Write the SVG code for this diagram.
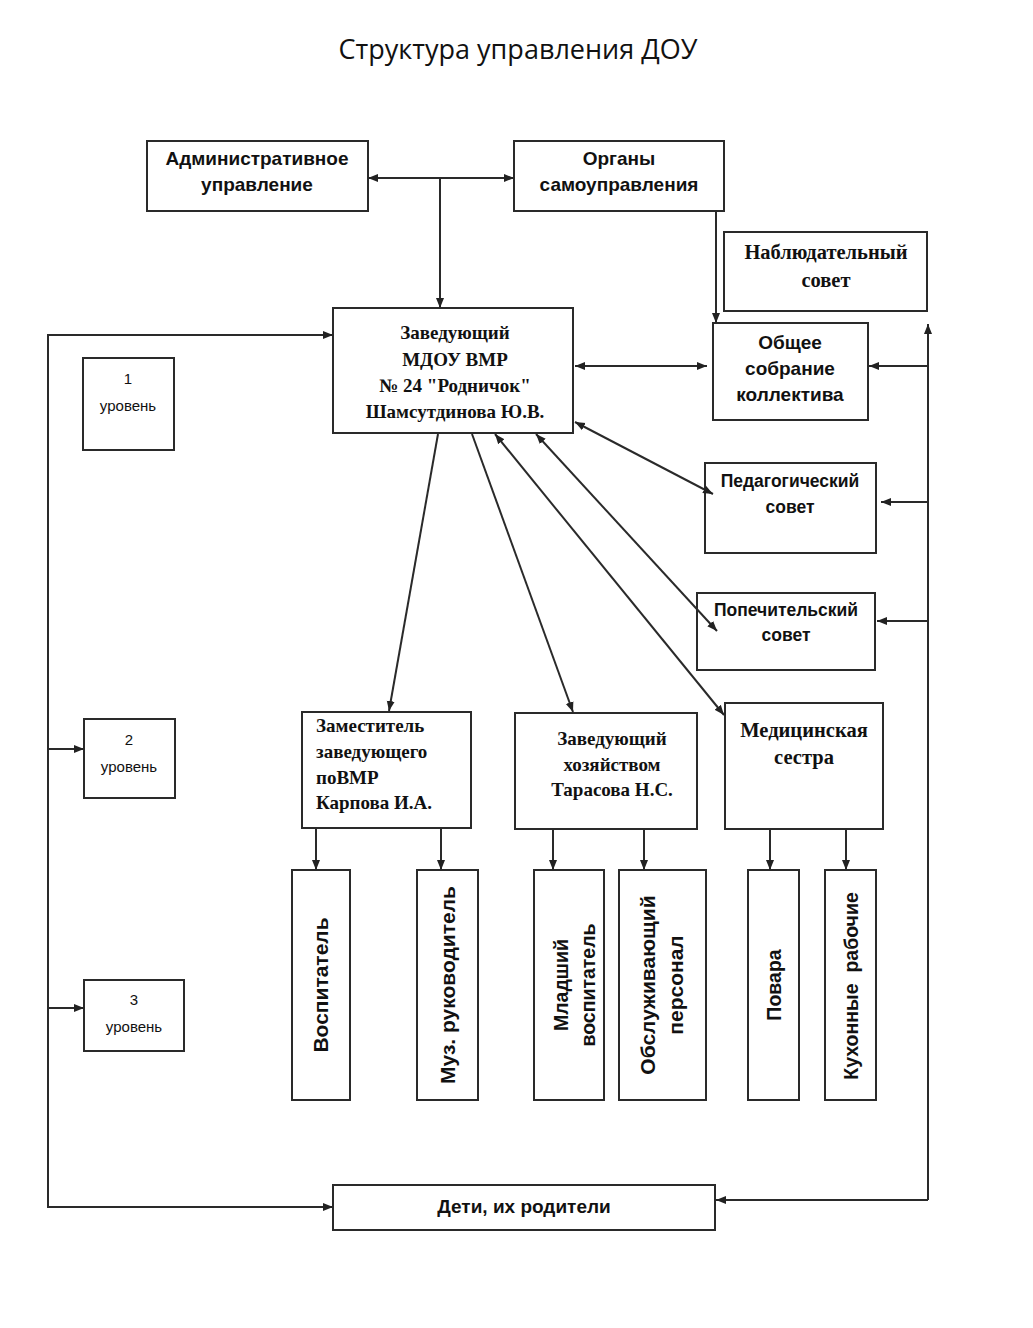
<svg xmlns="http://www.w3.org/2000/svg" width="1033" height="1328" viewBox="0 0 1033 1328">
<style>
.box{fill:#fff;stroke:#2a2a2a;stroke-width:2}
.ln{fill:none;stroke:#2a2a2a;stroke-width:2}
.s{font-family:"Liberation Sans",Arial,sans-serif;font-weight:bold;font-size:19px;fill:#111;text-anchor:middle}
.s2{font-size:17.5px}
.r{font-family:"Liberation Serif","Times New Roman",serif;font-weight:bold;font-size:19px;fill:#111;text-anchor:middle}
.r2{font-size:20.5px}
.sm{font-family:"Liberation Sans",Arial,sans-serif;font-size:15px;fill:#111;text-anchor:middle}
.v{font-family:"Liberation Sans",Arial,sans-serif;font-weight:bold;font-size:21px;fill:#111;text-anchor:middle}
.v2{font-size:19.5px}
.t{font-family:"Open Sans","Liberation Sans",sans-serif;font-size:27px;fill:#111;text-anchor:middle}
</style>
<defs>
<marker id="ah" viewBox="0 0 10 10" refX="10" refY="5" markerWidth="10" markerHeight="10" markerUnits="userSpaceOnUse" orient="auto-start-reverse"><path d="M0,1 L10,5 L0,9 z" fill="#222"/></marker>
</defs>
<rect width="1033" height="1328" fill="#fff"/>
<text class="t" x="518" y="59">Структура управления ДОУ</text>

<g id="admin"><rect class="box" x="147" y="141" width="221" height="70"/>
<text class="s" x="257" y="165">Административное</text><text class="s" x="257" y="191">управление</text></g>
<g id="organy"><rect class="box" x="514" y="141" width="210" height="70"/>
<text class="s" x="619" y="165">Органы</text><text class="s" x="619" y="191">самоуправления</text></g>
<g id="nabl"><rect class="box" x="724" y="232" width="203" height="79"/>
<text class="r r2" x="826" y="259">Наблюдательный</text><text class="r r2" x="826" y="287">совет</text></g>
<g id="head"><rect class="box" x="333" y="308" width="240" height="125"/>
<text class="r" x="455" y="339">Заведующий</text>
<text class="r" x="455" y="366">МДОУ ВМР</text>
<text class="r" x="455" y="392">№ 24 "Родничок"</text>
<text class="r" x="455" y="418">Шамсутдинова Ю.В.</text></g>
<g id="obshee"><rect class="box" x="713" y="323" width="155" height="97"/>
<text class="s" x="790" y="349">Общее</text><text class="s" x="790" y="375">собрание</text><text class="s" x="790" y="401">коллектива</text></g>
<g id="level1"><rect class="box" x="83" y="358" width="91" height="92"/>
<text class="sm" x="128" y="384">1</text><text class="sm" x="128" y="411">уровень</text></g>
<g id="ped"><rect class="box" x="705" y="463" width="171" height="90"/>
<text class="s s2" x="790" y="487">Педагогический</text><text class="s s2" x="790" y="513">совет</text></g>
<g id="popech"><rect class="box" x="697" y="593" width="178" height="77"/>
<text class="s s2" x="786" y="616">Попечительский</text><text class="s s2" x="786" y="641">совет</text></g>
<g id="level2"><rect class="box" x="84" y="719" width="91" height="79"/>
<text class="sm" x="129" y="745">2</text><text class="sm" x="129" y="772">уровень</text></g>
<g id="zam"><rect class="box" x="302" y="712" width="169" height="116"/>
<g class="r" style="text-anchor:start"><text x="316" y="732">Заместитель</text><text x="316" y="758">заведующего</text><text x="316" y="784">поВМР</text><text x="316" y="809">Карпова И.А.</text></g></g>
<g id="zavhoz"><rect class="box" x="515" y="713" width="182" height="116"/>
<text class="r" x="612" y="745">Заведующий</text><text class="r" x="612" y="771">хозяйством</text><text class="r" x="612" y="796">Тарасова Н.С.</text></g>
<g id="medsestra"><rect class="box" x="725" y="703" width="158" height="126"/>
<text class="r r2" x="804" y="737">Медицинская</text><text class="r r2" x="804" y="764">сестра</text></g>
<g id="level3"><rect class="box" x="84" y="980" width="100" height="71"/>
<text class="sm" x="134" y="1005">3</text><text class="sm" x="134" y="1032">уровень</text></g>

<g id="vosp"><rect class="box" x="292" y="870" width="58" height="230"/>
<text class="v" transform="translate(328,985) rotate(-90)">Воспитатель</text></g>
<g id="muz"><rect class="box" x="417" y="870" width="61" height="230"/>
<text class="v" transform="translate(455,985) rotate(-90)">Муз. руководитель</text></g>
<g id="mlad"><rect class="box" x="534" y="870" width="70" height="230"/>
<text class="v v2" transform="translate(568,985) rotate(-90)">Младший</text>
<text class="v v2" transform="translate(595,985) rotate(-90)">воспитатель</text></g>
<g id="obsl"><rect class="box" x="619" y="870" width="87" height="230"/>
<text class="v" transform="translate(655,985) rotate(-90)">Обслуживающий</text>
<text class="v" transform="translate(683,985) rotate(-90)">персонал</text></g>
<g id="povara"><rect class="box" x="748" y="870" width="51" height="230"/>
<text class="v v2" transform="translate(781,985) rotate(-90)">Повара</text></g>
<g id="kuhon"><rect class="box" x="825" y="870" width="51" height="230"/>
<text class="v v2" transform="translate(858,986) rotate(-90)" xml:space="preserve">Кухонные  рабочие</text></g>

<g id="deti"><rect class="box" x="333" y="1185" width="382" height="45"/>
<text class="s" x="524" y="1213">Дети, их родители</text></g>

<g id="connectors">
<line class="ln" x1="368" y1="178" x2="514" y2="178" marker-start="url(#ah)" marker-end="url(#ah)"/>
<line class="ln" x1="440" y1="179" x2="440" y2="308" marker-end="url(#ah)"/>
<line class="ln" x1="716" y1="212" x2="716" y2="323" marker-end="url(#ah)"/>
<line class="ln" x1="575" y1="366" x2="707" y2="366" marker-start="url(#ah)" marker-end="url(#ah)"/>
<line class="ln" x1="928" y1="1200" x2="928" y2="324" marker-end="url(#ah)"/>
<line class="ln" x1="928" y1="1200" x2="716" y2="1200" marker-end="url(#ah)"/>
<line class="ln" x1="928" y1="366" x2="869" y2="366" marker-end="url(#ah)"/>
<line class="ln" x1="928" y1="502" x2="881" y2="502" marker-end="url(#ah)"/>
<line class="ln" x1="928" y1="621" x2="877" y2="621" marker-end="url(#ah)"/>
<path class="ln" d="M48,335 V1207"/>
<line class="ln" x1="47" y1="335" x2="333" y2="335" marker-end="url(#ah)"/>
<line class="ln" x1="47" y1="1207" x2="333" y2="1207" marker-end="url(#ah)"/>
<line class="ln" x1="48" y1="749" x2="84" y2="749" marker-end="url(#ah)"/>
<line class="ln" x1="48" y1="1008" x2="84" y2="1008" marker-end="url(#ah)"/>
<line class="ln" x1="575" y1="422" x2="713" y2="494" marker-start="url(#ah)" marker-end="url(#ah)"/>
<line class="ln" x1="536" y1="434" x2="717" y2="631" marker-start="url(#ah)" marker-end="url(#ah)"/>
<line class="ln" x1="495" y1="434" x2="724" y2="715" marker-start="url(#ah)" marker-end="url(#ah)"/>
<line class="ln" x1="438" y1="434" x2="389" y2="711" marker-end="url(#ah)"/>
<line class="ln" x1="472" y1="434" x2="573" y2="712" marker-end="url(#ah)"/>
<line class="ln" x1="316" y1="829" x2="316" y2="870" marker-end="url(#ah)"/>
<line class="ln" x1="441" y1="829" x2="441" y2="870" marker-end="url(#ah)"/>
<line class="ln" x1="553" y1="830" x2="553" y2="870" marker-end="url(#ah)"/>
<line class="ln" x1="644" y1="830" x2="644" y2="870" marker-end="url(#ah)"/>
<line class="ln" x1="770" y1="830" x2="770" y2="870" marker-end="url(#ah)"/>
<line class="ln" x1="846" y1="830" x2="846" y2="870" marker-end="url(#ah)"/>
</g>
</svg>
